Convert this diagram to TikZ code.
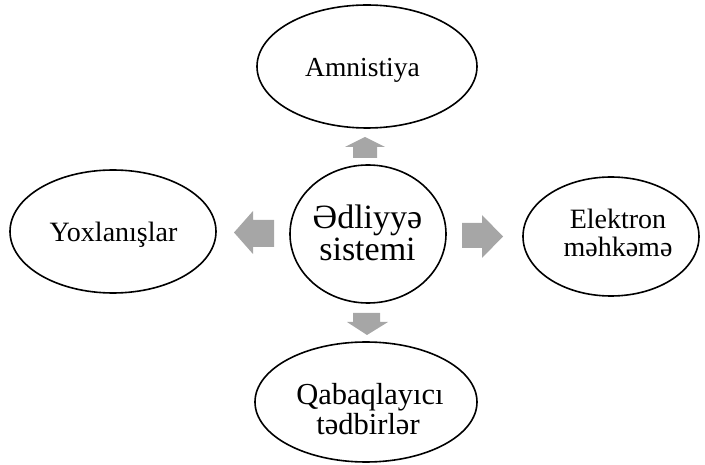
\documentclass[tikz,border=0pt]{standalone}
\usepackage{fontspec}
\setmainfont{Liberation Serif}
\usetikzlibrary{shapes.geometric}
\definecolor{arrowgray}{HTML}{A6A6A6}
\tikzset{
  oval/.style={ellipse, draw=black, line width=1.6pt, inner sep=0pt, fill=white},
  lbl/.style={anchor=base, inner sep=0pt},
  fatarrow/.style={fill=arrowgray, draw=none},
}
\begin{document}
\begin{tikzpicture}[x=1pt,y=-1pt]
\useasboundingbox (0,0) rectangle (705,465);
\node[oval, minimum width=220pt, minimum height=123pt] (top) at (367,66.5) {};
\node[oval, minimum width=156pt, minimum height=138pt] (mid) at (368,234) {};
\node[oval, minimum width=206pt, minimum height=123pt] (left) at (113,231.5) {};
\node[oval, minimum width=176pt, minimum height=119pt] (right) at (611,236.5) {};
\node[oval, minimum width=222pt, minimum height=120pt] (bottom) at (366,402) {};
% texts
\node[lbl, font=\fontsize{27.5}{30}\selectfont] (topt) at (362.5,77) {Amnistiya};
\node[lbl, font=\fontsize{34}{36}\selectfont] (midt1) at (367.5,229) {Ədliyyə};
\node[lbl, font=\fontsize{34}{36}\selectfont] (midt2) at (367.5,261) {sistemi};
\node[lbl, font=\fontsize{28}{30}\selectfont] (leftt) at (113.5,242) {Yoxlanışlar};
\node[lbl, font=\fontsize{28}{30}\selectfont] (rightt1) at (618,229) {Elektron};
\node[lbl, font=\fontsize{28}{30}\selectfont] (rightt2) at (618,257) {məhkəmə};
\node[lbl, font=\fontsize{30.5}{32}\selectfont] (bottomt1) at (370,405) {Qabaqlayıcı};
\node[lbl, font=\fontsize{30.5}{32}\selectfont] (bottomt2) at (368,435) {tədbirlər};
% block arrows
\fill[fatarrow] (234,232.5) -- (253,211) -- (253,220) -- (274,220) -- (274,247) -- (253,247) -- (253,254) -- cycle;
\fill[fatarrow] (503,236.5) -- (482,215) -- (482,223) -- (462,223) -- (462,248) -- (482,248) -- (482,258) -- cycle;
\fill[fatarrow] (365,137) -- (345,147) -- (353,147) -- (353,158) -- (377,158) -- (377,147) -- (385,147) -- cycle;
\fill[fatarrow] (367,335) -- (347,322) -- (353,322) -- (353,313) -- (380,313) -- (380,322) -- (388,322) -- cycle;
\end{tikzpicture}
\end{document}
